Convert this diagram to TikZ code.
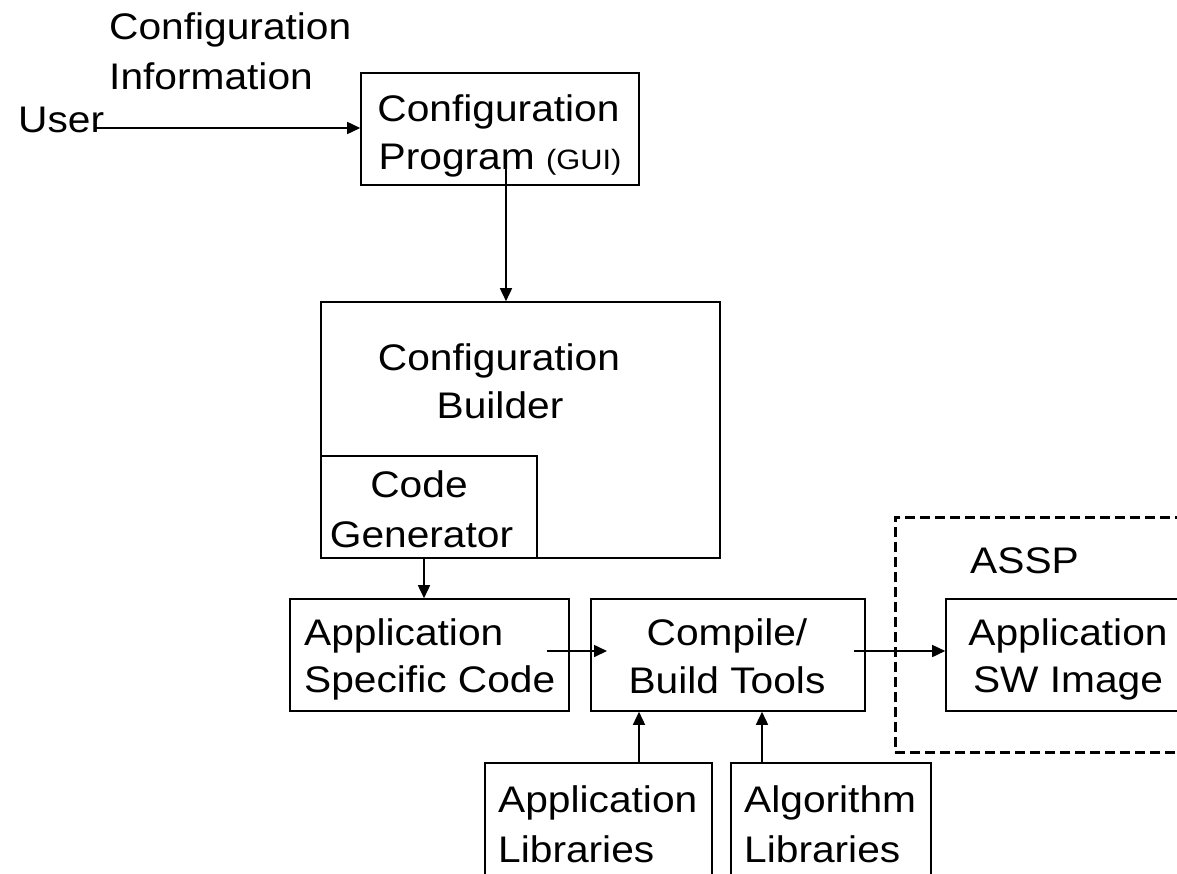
\documentclass[tikz,border=0pt]{standalone}
\usepackage{fontspec}
\setmainfont{Liberation Sans}[FakeStretch=1.1]
\usetikzlibrary{arrows.meta}
\begin{document}
\begin{tikzpicture}[x=1pt,y=-1pt,
  box/.style={draw, line width=1.6pt, rectangle, inner sep=0pt},
  dbox/.style={draw, line width=3pt, rectangle, inner sep=0pt, dash pattern=on 10pt off 5pt},
  lb/.style={anchor=base, inner sep=0pt, font=\fontsize{37}{48}\selectfont},
  lw/.style={anchor=base west, inner sep=0pt, font=\fontsize{37}{48}\selectfont},
  arr/.style={-{Triangle[length=13pt,width=12pt]}, line width=1.6pt}]
\clip (0,0) rectangle (1177,873);
\fill[white] (0,0) rectangle (1177,873);
% boxes
\node[box, minimum width=278pt, minimum height=112pt] (cp) at (500,129) {};
\node[box, minimum width=399pt, minimum height=256pt] (cb) at (520.5,430) {};
\node[box, minimum width=216pt, minimum height=102pt] (cg) at (429,507) {};
\node[box, minimum width=279pt, minimum height=112pt] (asc) at (429.5,655) {};
\node[box, minimum width=274pt, minimum height=112pt] (cmp) at (728,655) {};
\node[dbox, minimum width=305pt, minimum height=235pt] (assp) at (1047.5,634.5) {};
\node[box, minimum width=254pt, minimum height=112pt] (sw) at (1073,655) {};
\node[box, minimum width=227pt, minimum height=137pt] (al) at (598.5,831.5) {};
\node[box, minimum width=200pt, minimum height=137pt] (gl) at (831,831.5) {};
% texts
\node[lw] (ci1) at (109,39.5) {Configuration};
\node[lw] (ci2) at (109,89) {Information};
\node[lw] (user) at (18,132) {User};
\node[lb] (cp1) at (498.5,121) {Configuration};
\node[lb] (cp2) at (500,169) {Program {\fontsize{28}{30}\selectfont(GUI)}};
\node[lb] (cb1) at (499,370) {Configuration};
\node[lb] (cb2) at (500,418) {Builder};
\node[lb] (cg1) at (419,497) {Code};
\node[lb] (cg2) at (421.5,547) {Generator};
\node[lw] (asc1) at (304,645) {Application};
\node[lw] (asc2) at (304,692) {Specific Code};
\node[lb] (cmp1) at (727,645) {Compile/};
\node[lb] (cmp2) at (727,693) {Build Tools};
\node[lw] (assp1) at (970,573) {ASSP};
\node[lb] (sw1) at (1068,645) {Application};
\node[lb] (sw2) at (1068,692) {SW Image};
\node[lw] (al1) at (498,812) {Application};
\node[lw] (al2) at (498,862) {Libraries};
\node[lw] (gl1) at (744,812) {Algorithm};
\node[lw] (gl2) at (744,862) {Libraries};
% connector anchors
\coordinate (us) at (95,128);
\coordinate (cps) at (506,165);
\coordinate (cgx) at (424,0);
\coordinate (a1) at (547,651);
\coordinate (a2) at (607,651);
\coordinate (c1) at (854,651);
\coordinate (alx) at (639,0);
\coordinate (glx) at (762,0);
% connectors
\draw[arr] (us) -- (us -| cp.west);
\draw[arr] (cps) -- (cps |- cb.north);
\draw[arr] (cg.south -| cgx) -- (asc.north -| cgx);
\draw[arr] (a1) -- (a2);
\draw[arr] (c1) -- (c1 -| sw.west);
\draw[arr] (al.north -| alx) -- (cmp.south -| alx);
\draw[arr] (gl.north -| glx) -- (cmp.south -| glx);
\end{tikzpicture}
\end{document}
